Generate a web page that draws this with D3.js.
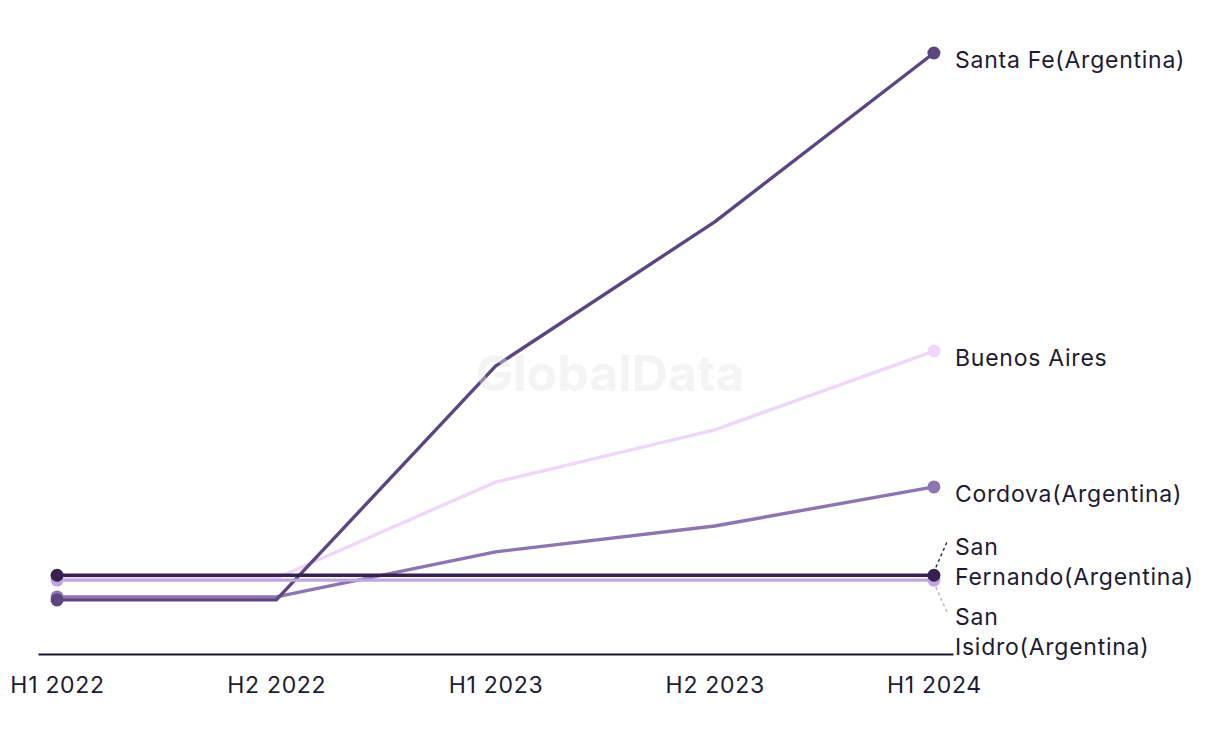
<!DOCTYPE html>
<html>
<head>
<meta charset="utf-8">
<script src="https://cdn.jsdelivr.net/npm/d3@7"></script>
<style>
  html, body { margin: 0; padding: 0; background: #fff; }
  svg { display: block; }
  text { font-family: Inter, "Liberation Sans", sans-serif; }
</style>
</head>
<body>
<svg id="chart" width="1220" height="744"></svg>
<script>
// ---- data ----
const periods = ["H1 2022", "H2 2022", "H1 2023", "H2 2023", "H1 2024"];
const seriesNames = ["Buenos Aires", "Cordova(Argentina)", "Santa Fe(Argentina)", "San Isidro(Argentina)", "San Fernando(Argentina)"];
const buenosAires = [12.6, 12.6, 28.6, 37.3, 50.4];
const cordova = [9.5, 9.5, 17.0, 21.3, 27.8];
const santaFe = [9.0, 9.0, 47.9, 71.9, 100.0];
const sanIsidro = [12.3, 12.3, 12.3, 12.3, 12.3];
const sanFernando = [13.1, 13.1, 13.1, 13.1, 13.1];
const seriesValues = [buenosAires, cordova, santaFe, sanIsidro, sanFernando];
const seriesColors = ["#efd6fb", "#8d74b3", "#5b4683", "#c0a6e0", "#35214f"];

// ---- chart ----
const svg = d3.select("#chart");
const axisY = 654;

const x = d3.scalePoint().domain(periods).range([38, 953]).padding(0.087);
const y = d3.scaleLinear().domain([0, 100]).range([axisY, 53]);

const line = d3.line().x((d, i) => x(periods[i])).y(d => y(d));

const series = seriesNames.map((name, k) => ({ name, values: seriesValues[k], color: seriesColors[k] }));

// axis
const axis = svg.append("g")
  .attr("transform", `translate(0,${axisY})`)
  .call(d3.axisBottom(x).tickSize(0).tickPadding(22.5));
axis.select(".domain").attr("stroke", "#16152b").attr("stroke-width", 2);
axis.selectAll(".tick text")
  .attr("fill", "#1d1b33")
  .style("font-size", "23px")
  .style("letter-spacing", "0.7px")
  .style("font-family", "Inter, 'Liberation Sans', sans-serif");

// lines
const g = svg.append("g");
series.forEach(s => {
  g.append("path")
    .datum(s.values)
    .attr("d", line)
    .attr("fill", "none")
    .attr("stroke", s.color)
    .attr("stroke-width", 3.4)
    .attr("stroke-linejoin", "round");
});
// dots
series.forEach(s => {
  const last = s.values.length - 1;
  [0, last].forEach(i => {
    g.append("circle")
      .attr("cx", x(periods[i]))
      .attr("cy", y(s.values[i]))
      .attr("r", 6.5)
      .attr("fill", s.color);
  });
});

// labels
const labelX = 955;
const lastP = periods[periods.length - 1];
function addLabel(s, firstBaseline, lines) {
  const t = svg.append("text")
    .attr("x", labelX)
    .attr("y", firstBaseline)
    .attr("fill", "#1d1b33")
    .style("font-size", "23px")
    .style("letter-spacing", "0.75px");
  lines.forEach((ln, i) => {
    t.append("tspan").attr("x", labelX).attr("dy", i === 0 ? 0 : 30).text(ln);
  });
}
series.forEach(s => {
  const vy = y(s.values[s.values.length - 1]);
  const vx = x(lastP);
  if (s.name === "San Fernando(Argentina)") {
    const b = vy - 20;
    addLabel(s, b, ["San", "Fernando(Argentina)"]);
    svg.append("line").attr("x1", vx + 2).attr("y1", vy - 8).attr("x2", vx + 13).attr("y2", b - 13)
      .attr("stroke", s.color).attr("stroke-width", 1.5).attr("stroke-dasharray", "3,3");
  } else if (s.name === "San Isidro(Argentina)") {
    const b = vy + 45;
    addLabel(s, b, ["San", "Isidro(Argentina)"]);
    svg.append("line").attr("x1", vx + 2).attr("y1", vy + 7).attr("x2", vx + 13).attr("y2", b - 13)
      .attr("stroke", s.color).attr("stroke-width", 1.5).attr("stroke-dasharray", "3,3");
  } else {
    addLabel(s, vy + 15, [s.name]);
  }
});

// watermark
svg.append("text")
  .attr("x", 610).attr("y", 391)
  .attr("text-anchor", "middle")
  .attr("fill", "#e6e6e6")
  .attr("opacity", 0.4)
  .style("font-size", "50px")
  .style("font-weight", "700")
  .text("GlobalData");
</script>
</body>
</html>
